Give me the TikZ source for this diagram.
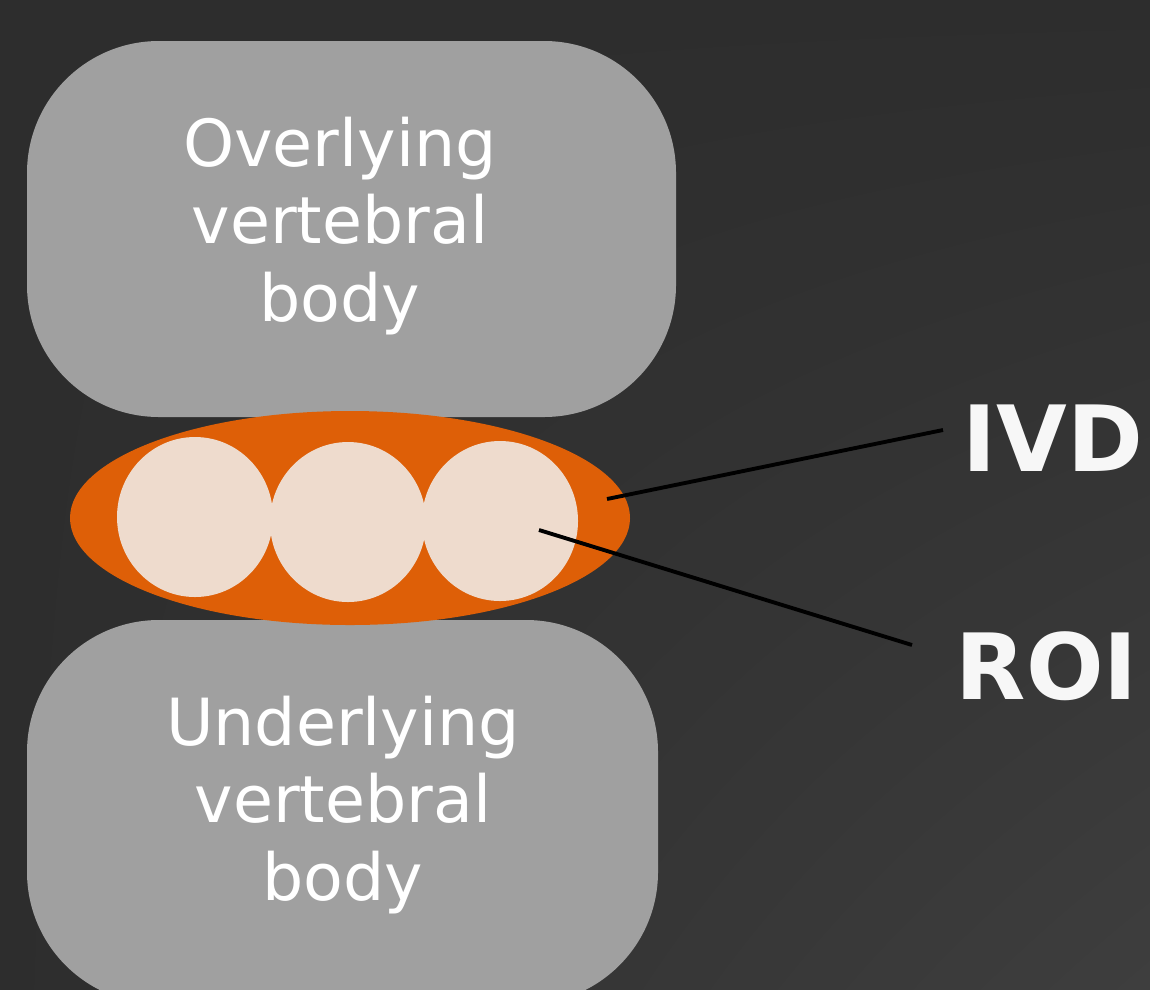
\documentclass[tikz,border=0pt]{standalone}
\usepackage{fontspec}
\setmainfont{DejaVu Sans}
\usepackage{tikz}
\usetikzlibrary{shadings}

\definecolor{bgdark}{HTML}{2D2D2D}
\definecolor{bglight}{HTML}{3E3E3E}
\definecolor{bonegray}{HTML}{A0A0A0}
\definecolor{discorange}{HTML}{DE5F07}
\definecolor{roicream}{HTML}{EEDBCD}

\begin{document}
\begin{tikzpicture}[
  bonetext/.style={text=white,align=center,font=\fontsize{18.5}{22}\selectfont},
  labeltext/.style={text=white!97!black,font=\bfseries\fontsize{26}{30}\selectfont,anchor=west,inner sep=0pt},
  leader/.style={black,line width=1.1pt}]
  \useasboundingbox (0,0) rectangle (11.5,9.89);
  \clip (0,0) rectangle (11.5,9.89);
  \shade[upper left=bgdark,upper right=bgdark,lower left=bgdark,lower right=bglight] (0,0) rectangle (11.5,9.89);
  % vertebral bodies
  \fill[bonegray,rounded corners=1.32cm] (0.27,5.72) rectangle (6.76,9.48);
  \fill[bonegray,rounded corners=1.32cm] (0.27,-0.15) rectangle (6.58,3.69);
  \node[bonetext] (over) at (3.40,7.63) {Overlying\\vertebral\\body};
  \node[bonetext] (under) at (3.43,1.84) {Underlying\\vertebral\\body};
  % disc and ROIs
  \fill[discorange] (3.50,4.71) ellipse[x radius=2.80,y radius=1.07];
  \fill[roicream] (1.95,4.72) ellipse[x radius=0.78,y radius=0.80];
  \fill[roicream] (3.48,4.67) ellipse[x radius=0.78,y radius=0.80];
  \fill[roicream] (5.00,4.68) ellipse[x radius=0.78,y radius=0.80];
  \node[labeltext] (ivd) at (9.62,5.51) {IVD};
  \node[labeltext] (roi) at (9.55,3.23) {ROI};
  \coordinate (ivdin) at (6.07,4.90); \coordinate (ivdend) at (9.43,5.59);
  \coordinate (roiin) at (5.39,4.59); \coordinate (roiend) at (9.12,3.44);
  \draw[leader] (ivdin)--(ivdend); \draw[leader] (roiin)--(roiend);
\end{tikzpicture}
\end{document}
